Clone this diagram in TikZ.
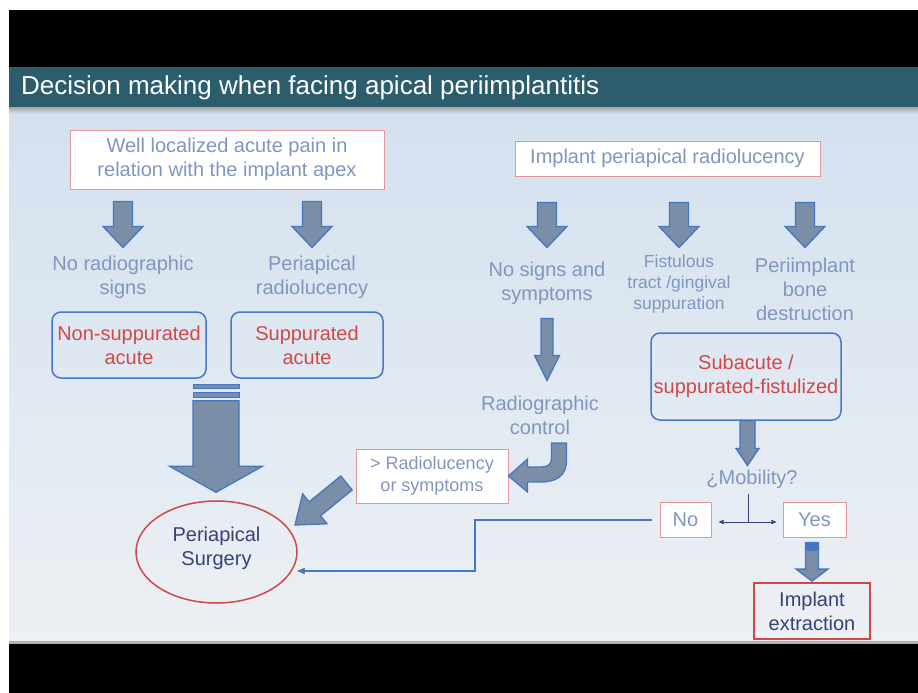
\documentclass[tikz,border=0pt]{standalone}
\usepackage{fontspec}
\setmainfont{Liberation Sans}
\usetikzlibrary{arrows,calc,shapes.geometric}

\definecolor{titlebar}{RGB}{44,93,108}
\definecolor{bgtop}{RGB}{211,225,239}
\definecolor{bgbot}{RGB}{237,240,244}
\definecolor{softblue}{RGB}{128,150,192}
\definecolor{alarmred}{RGB}{208,72,72}
\definecolor{deepnavy}{RGB}{52,66,122}
\definecolor{pinkline}{RGB}{226,150,150}
\definecolor{boxblue}{RGB}{70,120,200}
\definecolor{arrowfill}{RGB}{122,142,168}
\definecolor{arrowline}{RGB}{68,118,196}

\begin{document}
\begin{tikzpicture}[x=1pt,y=-1pt,>=stealth',
    every node/.style={align=center,font=\fontsize{20}{24}\selectfont},
    blockarrow/.style n args={3}{draw=arrowline,fill=arrowfill,line width=1.3pt,line join=miter,
      to path={($(\tikztostart)!#1!90:(\tikztotarget)$)
        -- ($(\tikztotarget)!#3!(\tikztostart)!#1!-90:(\tikztostart)$)
        -- ($(\tikztotarget)!#3!(\tikztostart)!#2!-90:(\tikztostart)$)
        -- (\tikztotarget)
        -- ($(\tikztotarget)!#3!(\tikztostart)!#2!90:(\tikztostart)$)
        -- ($(\tikztotarget)!#3!(\tikztostart)!#1!90:(\tikztostart)$)
        -- ($(\tikztostart)!#1!-90:(\tikztotarget)$) -- cycle}}]

  \tikzstyle{question}=[draw=pinkline,fill=white,line width=1pt,text=softblue]
  \tikzstyle{note}=[text=softblue,inner sep=0pt]
  \tikzstyle{case}=[draw=boxblue,rounded corners=9pt,line width=1.5pt,text=alarmred,inner sep=0pt]
  \tikzstyle{outcome}=[text=deepnavy,inner sep=0pt]

  % slide
  \useasboundingbox (0,0) rectangle (918,693);
  \fill[white] (0,0) rectangle (918,693);
  \fill[black] (9,10) rectangle (918,67);
  \fill[titlebar] (9,67) rectangle (918,107);
  \shade[top color=gray!70,bottom color=bgtop] (9,107) rectangle (918,114);
  \shade[top color=bgtop,bottom color=bgbot] (9,114) rectangle (918,642);
  \fill[gray!60] (9,641) rectangle (918,644);
  \fill[black] (9,644) rectangle (918,693);

  \node[anchor=west,text=white,inner sep=0pt,font=\fontsize{26}{30}\selectfont] (title) at (21,88)
    {Decision making when facing apical periimplantitis};

  \node[question,minimum width=314,minimum height=59] (pain) at (227,159.5)
    {Well localized acute pain in\\relation with the implant apex};
  \node[question,minimum width=305,minimum height=35] (lucency) at (667.5,158.5)
    {Implant periapical radiolucency};

  \node[note] (noradio)    at (123,277) {No radiographic\\signs};
  \node[note] (perilucent) at (312,277) {Periapical\\radiolucency};
  \node[case,minimum width=154,minimum height=66] (nonsup) at (129,345) {Non-suppurated\\acute};
  \node[case,minimum width=152,minimum height=66] (sup)    at (307,345) {Suppurated\\acute};

  \node[note] (nosigns) at (547,283) {No signs and\\symptoms};
  \node[note,font=\fontsize{17.5}{21}\selectfont] (fistula) at (679,284) {Fistulous\\tract /gingival\\suppuration};
  \node[note] (bone)    at (805,289) {Periimplant\\bone\\destruction};
  \node[note] (control) at (540,415) {Radiographic\\control};
  \node[case,minimum width=190,minimum height=87] (subacute) at (746,376.5) {Subacute /\\suppurated-fistulized};

  \node[note] (mobility) at (752,479) {¿Mobility?};
  \node[question,minimum width=51,minimum height=35] (no)  at (685.5,520) {No};
  \node[question,minimum width=63,minimum height=35] (yes) at (814.5,520) {Yes};
  \node[question,font=\fontsize{18}{22}\selectfont,minimum width=152,minimum height=54] (worse) at (432,476)
    {> Radiolucency\\or symptoms};

  \node[ellipse,draw=alarmred,line width=1.5pt,outcome,text depth=12pt,minimum width=161,minimum height=102] (surgery)
    at (216.5,552) {Periapical\\Surgery};
  \node[draw=alarmred,line width=1.8pt,outcome,minimum width=116,minimum height=56] (extraction)
    at (812,611) {Implant\\extraction};

  % block arrows
  \coordinate (a1s) at ($(pain.south -| noradio)+(0,12)$);
  \coordinate (a1e) at ($(noradio.north)+(0,-8)$);
  \coordinate (a2s) at ($(pain.south -| perilucent)+(0,12)$);
  \coordinate (a2e) at ($(perilucent.north)+(0,-8)$);
  \coordinate (a3s) at ($(lucency.south -| nosigns)+(0,26)$);
  \coordinate (a3e) at ($(a3s)+(0,45)$);
  \coordinate (a4s) at ($(lucency.south -| fistula)+(0,26)$);
  \coordinate (a4e) at ($(a4s)+(0,45)$);
  \coordinate (a5s) at ($(lucency.south -| bone)+(0,26)$);
  \coordinate (a5e) at ($(a5s)+(0,45)$);
  \coordinate (a6s) at ($(nosigns.south)+(0,14)$);
  \coordinate (a6e) at ($(nosigns.south |- control.north)+(0,-15)$);
  \coordinate (bigtop) at ($(nonsup.south)!0.5!(sup.south)+(-2,22)$);
  \coordinate (bigtip) at ($(bigtop |- surgery.north)+(0,-8)$);
  \coordinate (a7s) at ($(subacute.south)+(1.5,0)$);
  \coordinate (a7e) at ($(a7s |- mobility.north)+(0,-4)$);
  \coordinate (yestop) at ($(yes.south)+(-2.5,4.5)$);
  \coordinate (a8e) at ($(yestop |- extraction.north)+(0,-1)$);
  \coordinate (a9s) at ($(worse.west)+(-9,7)$);
  \coordinate (a9e) at ($(surgery.center)+(78.5,-27)$);

  \draw[blockarrow={9.5pt}{20pt}{21pt}] (a1s) to (a1e);
  \draw[blockarrow={9.5pt}{20pt}{21pt}] (a2s) to (a2e);
  \draw[blockarrow={9.5pt}{20pt}{21pt}] (a3s) to (a3e);
  \draw[blockarrow={9.5pt}{20pt}{21pt}] (a4s) to (a4e);
  \draw[blockarrow={9.5pt}{20pt}{21pt}] (a5s) to (a5e);
  \draw[blockarrow={6pt}{12.5pt}{25pt}] (a6s) to (a6e);
  \draw[blockarrow={7.5pt}{11.5pt}{17pt}] (a7s) to (a7e);
  \draw[blockarrow={6.5pt}{16pt}{12pt}] (yestop) to (a8e);
  \fill[arrowline] ($(yestop)+(-6.5,0)$) rectangle ($(yestop)+(6.5,8)$);
  \draw[blockarrow={9pt}{19.3pt}{25.6pt}] (a9s) to (a9e);

  \draw[draw=arrowline,fill=arrowfill,line width=1pt] ($(bigtop)+(-23,-16.5)$) rectangle ($(bigtop)+(23,-12)$);
  \draw[draw=arrowline,fill=arrowfill,line width=1pt] ($(bigtop)+(-23,-8.5)$) rectangle ($(bigtop)+(23,-3)$);
  \draw[blockarrow={23pt}{46.5pt}{26pt}] (bigtop) to (bigtip);

  % u-turn from control into the worse box
  \begin{scope}[shift={(worse.east)}]
    \draw[draw=arrowline,fill=arrowfill,line width=1.3pt,line join=miter]
      (43,-33) -- (58,-33) -- (58,-16) .. controls (58,0) and (48,6) .. (32,6)
      -- (19,6) -- (19,16) -- (0,0) -- (19,-17) -- (19,-9) -- (32,-9)
      .. controls (40,-9) and (43,-12) .. (43,-18) -- cycle;
  \end{scope}

  % mobility fork
  \coordinate (fork)  at (748,522);
  \coordinate (forkl) at (719,522);
  \coordinate (forkr) at (776,522);
  \draw[deepnavy,line width=0.8pt] ($(fork |- mobility.south)+(0,5)$) -- (fork);
  \draw[deepnavy,line width=0.8pt,<->] (forkl) -- (forkr);

  \coordinate (bend) at (475,571);
  \draw[arrowline,line width=1.5pt,->] ([xshift=-8pt]no.west) -| (bend) -- (surgery.east |- bend);
\end{tikzpicture}
\end{document}
